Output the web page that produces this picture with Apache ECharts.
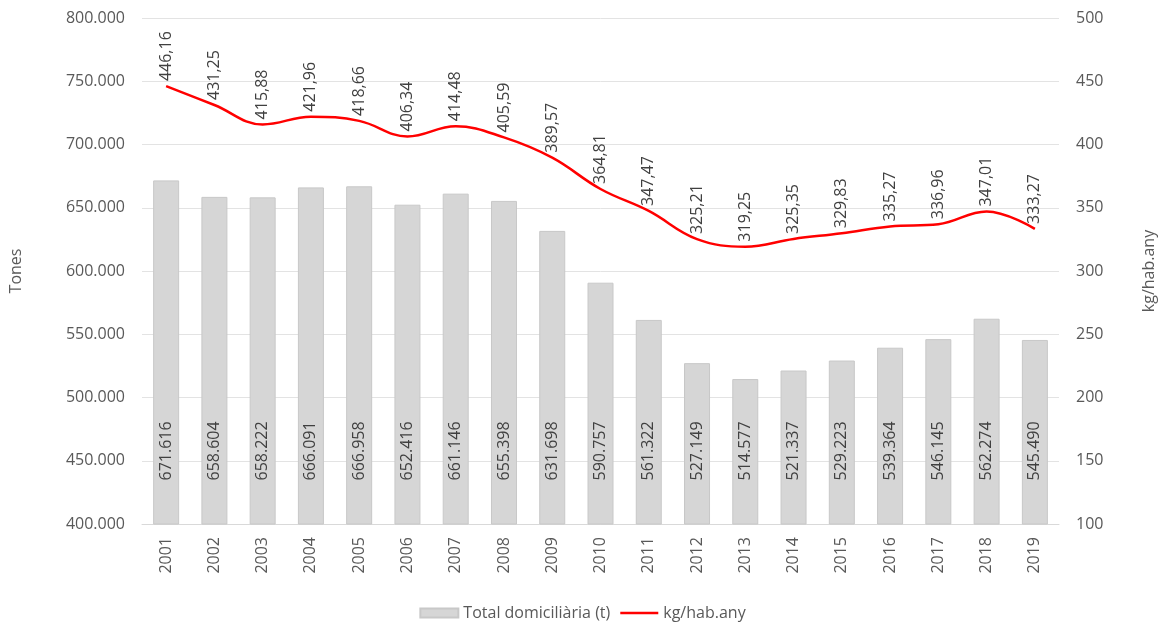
<!DOCTYPE html>
<html><head><meta charset="utf-8">
<script src="https://cdn.jsdelivr.net/npm/echarts@6/dist/echarts.min.js"></script>
<style>html,body{margin:0;padding:0;background:#fff}#c{width:1165px;height:630px}</style>
</head><body><div id="c"></div>
<script>
const years = ['2001','2002','2003','2004','2005','2006','2007','2008','2009','2010','2011','2012','2013','2014','2015','2016','2017','2018','2019'];
const tones = [671616,658604,658222,666091,666958,652416,661146,655398,631698,590757,561322,527149,514577,521337,529223,539364,546145,562274,545490];
const kgHab = [446.16,431.25,415.88,421.96,418.66,406.34,414.48,405.59,389.57,364.81,347.47,325.21,319.25,325.35,329.83,335.27,336.96,347.01,333.27];
const barName = 'Total domiciliària (t)';
const lineName = 'kg/hab.any';

const FONT = '"Open Sans", "Liberation Sans", sans-serif';
const TXT = '#595959';
const FS = 16;
const thousands = v => String(Math.round(v)).replace(/\B(?=(\d{3})+(?!\d))/g, '.');
const dec = v => v.toFixed(2).replace('.', ',');

const chart = echarts.init(document.getElementById('c'));
chart.setOption({
  animation: false,
  textStyle: { fontFamily: FONT },
  grid: { left: 142, right: 105, top: 18, bottom: 106 },
  legend: {
    bottom: 4, left: 'center', itemGap: 10, itemWidth: 38, itemHeight: 9,
    textStyle: { color: TXT, fontSize: FS, fontFamily: FONT },
    data: [
      { name: barName, icon: 'rect' },
      { name: lineName, icon: 'path://M0,0h38v2.5h-38z' }
    ]
  },
  xAxis: {
    type: 'category', data: years,
    axisTick: { show: false },
    axisLine: { show: true, lineStyle: { color: '#d9d9d9' } },
    axisLabel: { rotate: 90, color: TXT, fontSize: FS, margin: 13 }
  },
  yAxis: [
    {
      type: 'value', min: 400000, max: 800000, interval: 50000,
      name: 'Tones', nameLocation: 'middle', nameGap: 118, nameRotate: 90,
      nameTextStyle: { color: TXT, fontSize: FS },
      axisLabel: { color: TXT, fontSize: FS, margin: 17, formatter: v => thousands(v) },
      splitLine: { lineStyle: { color: '#e3e3e3' } },
      axisLine: { show: false }, axisTick: { show: false }
    },
    {
      type: 'value', min: 100, max: 500, interval: 50,
      name: 'kg/hab.any', nameLocation: 'middle', nameGap: 82, nameRotate: 90,
      nameTextStyle: { color: TXT, fontSize: FS },
      axisLabel: { color: TXT, fontSize: FS, margin: 17 },
      splitLine: { show: false },
      axisLine: { show: false }, axisTick: { show: false }
    }
  ],
  series: [
    {
      name: barName, type: 'bar', data: tones, barWidth: 26,
      itemStyle: { color: '#d6d6d6', borderColor: '#c8c8c8', borderWidth: 1 },
      label: {
        show: true, position: 'insideBottom', distance: 44, rotate: 90,
        align: 'left', verticalAlign: 'middle',
        color: '#404040', fontSize: FS, formatter: p => thousands(p.value)
      }
    },
    {
      name: lineName, type: 'line', yAxisIndex: 1, data: kgHab, smooth: 0.4,
      symbol: 'circle', symbolSize: 0.01, showSymbol: true,
      lineStyle: { color: '#ff0000', width: 2.5 },
      itemStyle: { color: '#ff0000' },
      label: {
        show: true, position: 'top', distance: 5, rotate: 90,
        align: 'left', verticalAlign: 'middle',
        color: '#404040', fontSize: FS, formatter: p => dec(p.value)
      }
    }
  ]
});
</script></body></html>
